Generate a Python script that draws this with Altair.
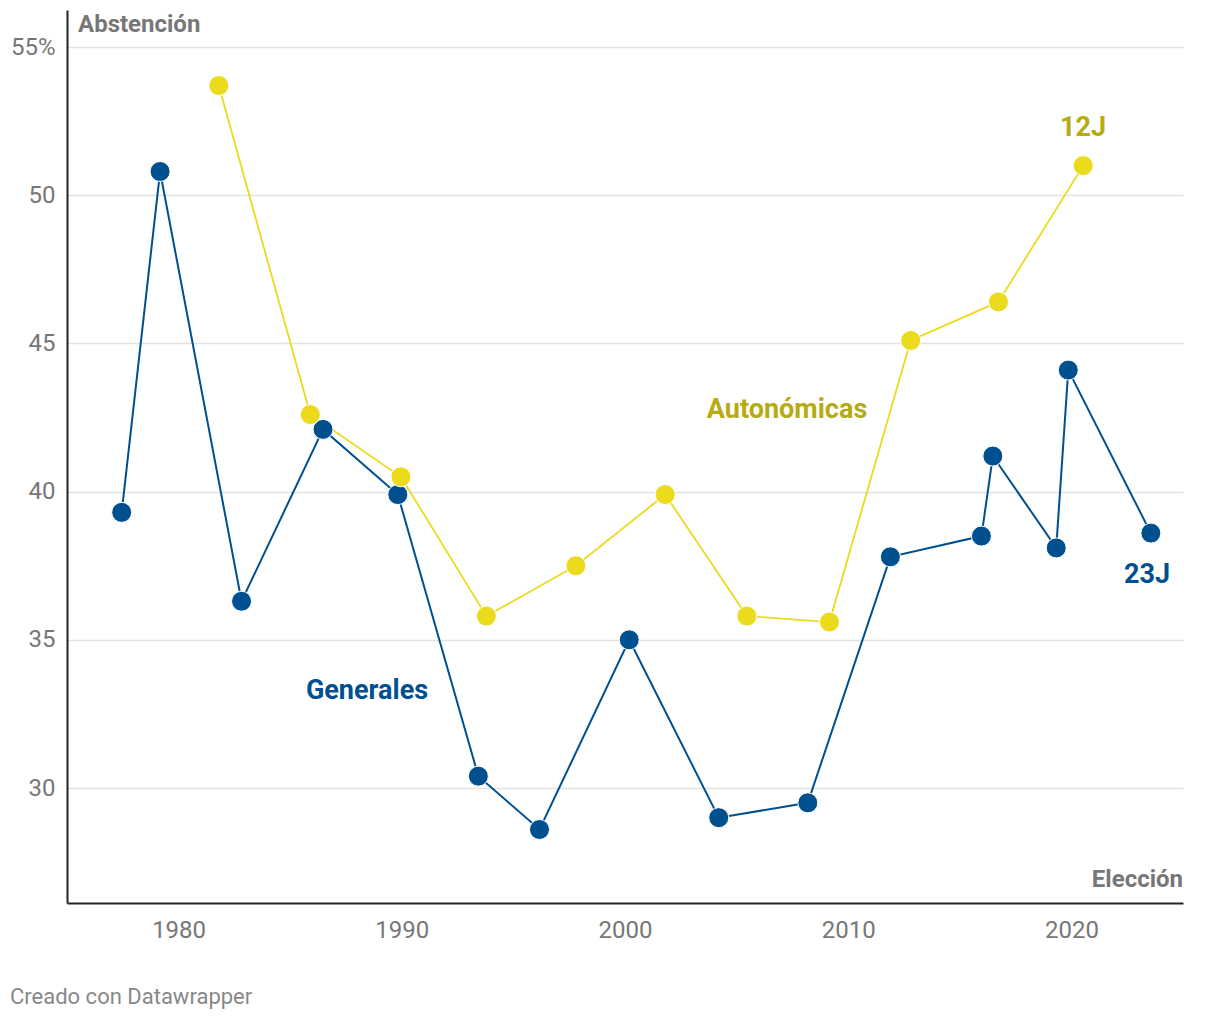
import altair as alt
import pandas as pd

# Generales (elecciones generales): fecha (año decimal) y abstención (%)
gen_year = [1977.45, 1979.17, 1982.82, 1986.47, 1989.82, 1993.43, 1996.17, 2000.19,
            2004.20, 2008.19, 2011.89, 2015.97, 2016.48, 2019.32, 2019.86, 2023.56]
gen_val = [39.3, 50.8, 36.3, 42.1, 39.9, 30.4, 28.6, 35.0,
           29.0, 29.5, 37.8, 38.5, 41.2, 38.1, 44.1, 38.6]

# Autonómicas
aut_year = [1981.80, 1985.90, 1989.96, 1993.79, 1997.80, 2001.80, 2005.46, 2009.16,
            2012.80, 2016.73, 2020.53]
aut_val = [53.7, 42.6, 40.5, 35.8, 37.5, 39.9, 35.8, 35.6, 45.1, 46.4, 51.0]

# Annotations
ann_text = ["Generales", "Autonómicas", "12J", "23J"]
ann_year = [1988.44, 2007.26, 2020.52, 2023.39]
ann_val = [33.0, 42.48, 52.0, 36.9]
ann_series = ["Generales", "Autonómicas", "Autonómicas", "Generales"]

x_ticks = [1980, 1990, 2000, 2010, 2020]
y_ticks = [30, 35, 40, 45, 50, 55]

BLUE = "#00508f"
YELLOW = "#ebdb1c"
OLIVE = "#b7ab13"
GRAY = "#777777"
FONT = "Roboto"

df = pd.concat([
    pd.DataFrame({"year": gen_year, "val": gen_val, "serie": "Generales"}),
    pd.DataFrame({"year": aut_year, "val": aut_val, "serie": "Autonómicas"}),
])
ann = pd.DataFrame({"year": ann_year, "val": ann_val, "text": ann_text, "serie": ann_series})

W, H = 1116, 893

xs = alt.Scale(domain=[1975, 2025], nice=False, zero=False)
ys = alt.Scale(domain=[26.12, 56.25], nice=False, zero=False)

x_axis = alt.Axis(values=x_ticks, format="d", title=None, grid=False, ticks=False,
                  labelPadding=15, labelFontSize=24, labelColor=GRAY,
                  labelFont=FONT, domainColor="#222222", domainWidth=2)
y_axis = alt.Axis(values=y_ticks, title=None, grid=True, gridColor="#e2e2e2", gridWidth=1.5,
                  ticks=False, labelPadding=12, labelFontSize=24, labelColor=GRAY,
                  labelFont=FONT, domainColor="#222222", domainWidth=2,
                  labelExpr="datum.value == 55 ? datum.value + '%' : datum.value")

color_lines = alt.Scale(domain=["Generales", "Autonómicas"], range=[BLUE, YELLOW])
color_text = alt.Scale(domain=["Generales", "Autonómicas"], range=[BLUE, OLIVE])

gen_line = alt.Chart(df).transform_filter(alt.datum.serie == "Generales").mark_line(
    color=BLUE, strokeWidth=2).encode(
    x=alt.X("year:Q", scale=xs, axis=x_axis),
    y=alt.Y("val:Q", scale=ys, axis=y_axis),
    order="year:Q")

aut_line = alt.Chart(df).transform_filter(alt.datum.serie == "Autonómicas").mark_line(
    color=YELLOW, strokeWidth=1.8).encode(
    x=alt.X("year:Q", scale=xs),
    y=alt.Y("val:Q", scale=ys),
    order="year:Q")

points = alt.Chart(df).mark_circle(size=400, opacity=1, stroke="white", strokeWidth=1).encode(
    x=alt.X("year:Q", scale=xs),
    y=alt.Y("val:Q", scale=ys),
    color=alt.Color("serie:N", scale=color_lines, legend=None))

labels = alt.Chart(ann).mark_text(font=FONT, fontSize=27, fontWeight="bold",
                                  align="center", baseline="alphabetic").encode(
    x=alt.X("year:Q", scale=xs),
    y=alt.Y("val:Q", scale=ys),
    text="text:N",
    color=alt.Color("serie:N", scale=color_text, legend=None))

title_df = pd.DataFrame({"t": ["Abstención"]})
y_title = alt.Chart(title_df).mark_text(font=FONT, fontSize=24, fontWeight="bold",
                                        align="left", baseline="alphabetic", color=GRAY).encode(
    x=alt.value(11), y=alt.value(22), text="t:N")

x_title_df = pd.DataFrame({"t": ["Elección"]})
x_title = alt.Chart(x_title_df).mark_text(font=FONT, fontSize=24, fontWeight="bold",
                                          align="right", baseline="alphabetic", color=GRAY).encode(
    x=alt.value(W), y=alt.value(877), text="t:N")

credit_df = pd.DataFrame({"t": ["Creado con Datawrapper"]})
credit = alt.Chart(credit_df).mark_text(font=FONT, fontSize=22, align="left",
                                        baseline="alphabetic", color="#888888").encode(
    x=alt.value(-57), y=alt.value(994), text="t:N")

chart = alt.layer(gen_line, aut_line, points, labels, y_title, x_title, credit).properties(
    width=W, height=H,
    autosize=alt.AutoSizeParams(type="none"),
    padding={"left": 67, "top": 10, "right": 37, "bottom": 117},
    background="white",
).resolve_scale(color="independent").configure_view(stroke=None)

chart.save("out.html", embed_options={"renderer": "svg", "actions": False})
